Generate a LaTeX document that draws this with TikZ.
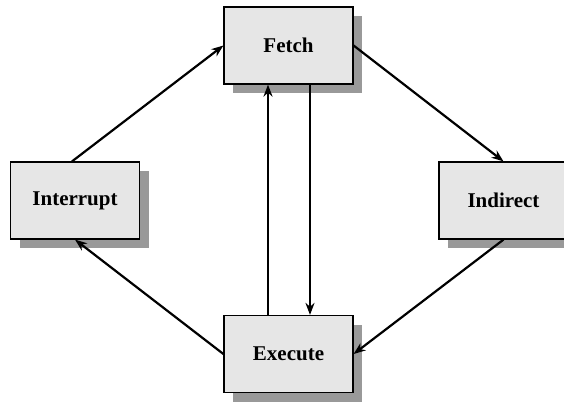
\documentclass[tikz,border=0pt]{standalone}
\usepackage{fontspec}
\setmainfont{Liberation Serif}
\usepackage{tikz}
\usetikzlibrary{arrows.meta,shadows}
\definecolor{boxfill}{HTML}{E6E6E6}
\definecolor{boxshade}{HTML}{999999}

\begin{document}
\begin{tikzpicture}[x=1pt,y=-1pt,>={Stealth[length=12pt,width=9pt]},
  state/.style={draw,line width=1.2pt,fill=boxfill,minimum width=129pt,minimum height=77pt,
    font=\bfseries\fontsize{21}{25}\selectfont,
    drop shadow={shadow xshift=9pt,shadow yshift=-9pt,fill=boxshade,opacity=1}},
  flow/.style={->,line width=2.2pt}]
  \useasboundingbox (0,0) rectangle (564,402);
  \node[state] (fetch) at (288.5,45.5) {Fetch};
  \node[state] (intr) at (75,200.5) {Interrupt};
  \node[state] (indr) at (503.5,200.5) {Indirect};
  \node[state] (exec) at (288.5,354) {Execute};

  \draw[flow] ([xshift=-3pt]intr.north) -- (fetch.west);
  \draw[flow] (fetch.east) -- (indr.north);
  \draw[flow] (indr.south) -- (exec.east);
  \draw[flow] (exec.west) -- (intr.south);
  \draw[flow] ([xshift=-20.5pt]exec.north) -- ([xshift=-20.5pt]fetch.south);
  \draw[flow] ([xshift=21.5pt]fetch.south) -- ([xshift=21.5pt]exec.north);
\end{tikzpicture}
\end{document}
